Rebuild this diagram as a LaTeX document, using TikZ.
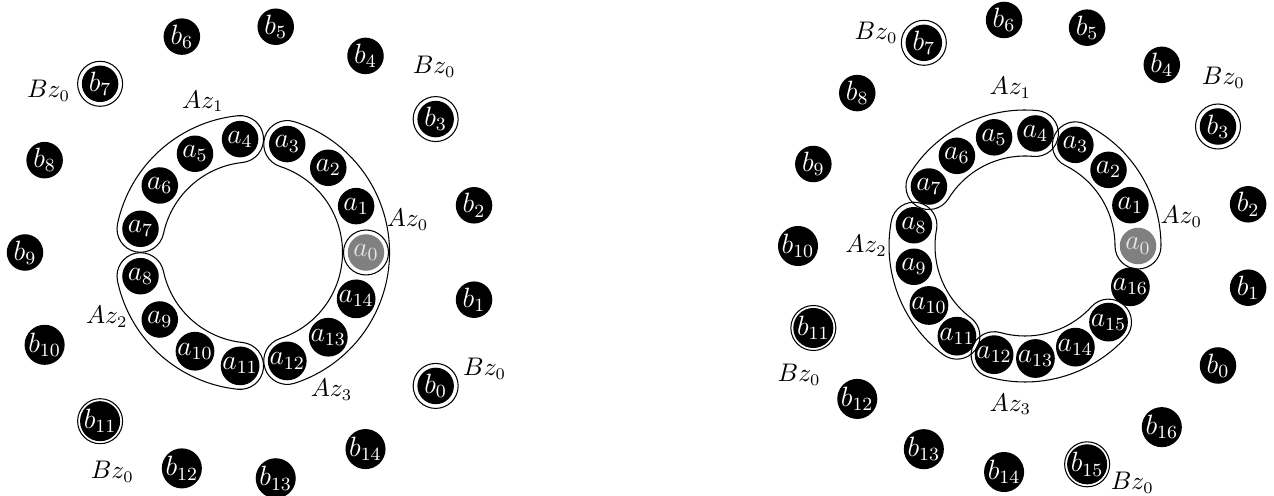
\documentclass[tikz,border=0pt]{standalone}
\newcommand\myband[4]{%
  \draw[band] ({#1}:{#3+#4}) arc[start angle={#1}, end angle={#2}, radius={#3+#4}]
    arc[start angle={#2}, end angle={#2+180}, radius={#4}]
    arc[start angle={#2}, end angle={#1}, radius={#3-#4}]
    arc[start angle={#1+180}, end angle={#1+360}, radius={#4}] -- cycle;}
\begin{document}
\begin{tikzpicture}[x=0.43pt,y=0.43pt,
  dot/.style={circle, fill=black, text=white, inner sep=0pt, minimum size=15.7pt, font=\fontsize{12}{14}\selectfont},
  gdot/.style={dot, fill=gray, text=white!80!gray},
  ring/.style={draw=black, line width=0.45pt},
  band/.style={draw=black, line width=0.45pt},
  lbl/.style={inner sep=0pt, font=\fontsize{10.5}{12}\selectfont}]
\useasboundingbox (0,0) rectangle (1274,495);

% ---------- left diagram ----------
\begin{scope}[shift={(252,242.5)}]
  \myband{-72}{72}{114}{23.5}
  \myband{96}{168}{114}{23.5}
  \myband{192}{264}{114}{23.5}
  \node[gdot] (la0) at (0:114) {$a_{0}$};
  \foreach \i in {1,...,14} \node[dot] (la\i) at ({24*\i}:114) {$a_{\i}$};
  \foreach \i in {0,...,14} \node[dot] (lb\i) at ({24*\i-36}:227) {$b_{\i}$};
  \draw[ring] (la0.center) circle[radius=22.5];
  \foreach \i in {0,3,7,11} {
    \draw[ring] (lb\i.center) circle[radius=22.5];
    \node[lbl] (lbz\i) at ({24*\i-36+9.5}:260) {$Bz_0$};
  }
  \foreach \i in {0,...,3} \node[lbl] (laz\i) at ({(4*\i+0.5)*24}:159) {$Az_{\i}$};
\end{scope}

% ---------- right diagram ----------
\begin{scope}[shift={(1025,249)}]
  \myband{0}{63.53}{113}{23}
  \myband{84.71}{148.24}{113}{23}
  \myband{169.41}{232.94}{113}{23}
  \myband{254.12}{317.65}{113}{23}
  \node[gdot] (ra0) at (0:113) {$a_{0}$};
  \foreach \i in {1,...,16} \node[dot] (ra\i) at ({360/17*\i}:113) {$a_{\i}$};
  \foreach \i in {0,...,16} \node[dot] (rb\i) at ({360/17*(\i-1.5)}:227) {$b_{\i}$};
  \foreach \i in {3,7,11,15} {
    \draw[ring] (rb\i.center) circle[radius=22.5];
    \node[lbl] (rbz\i) at ({360/17*(\i-1.5)+8.5}:260) {$Bz_0$};
  }
  \foreach \i in {0,...,3} \node[lbl] (raz\i) at ({(4*\i+0.5)*360/17}:159) {$Az_{\i}$};
\end{scope}
\end{tikzpicture}
\end{document}
